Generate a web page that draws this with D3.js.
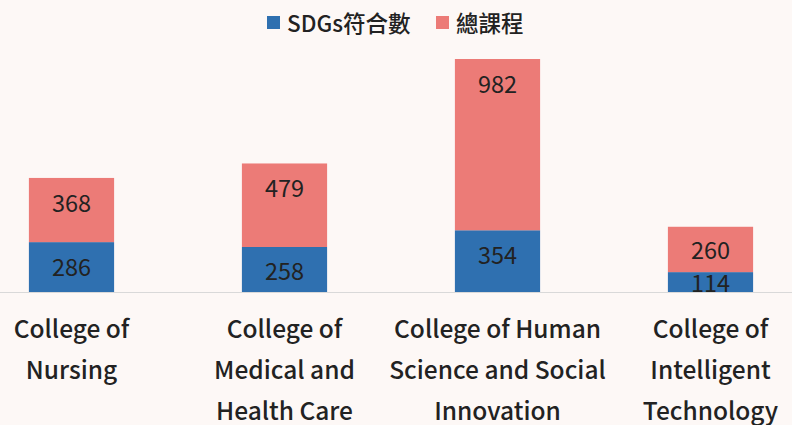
<!DOCTYPE html>
<html>
<head>
<meta charset="utf-8">
<script src="https://cdn.jsdelivr.net/npm/d3@7"></script>
<style>
  html, body { margin: 0; padding: 0; background: #fdf8f6; }
  svg { display: block; }
  text { font-family: "Noto Sans CJK TC", "Noto Sans", sans-serif; fill: #222; }
</style>
</head>
<body>
<svg id="chart" width="792" height="425"></svg>
<script>
// Colleges (x categories), each label split over lines
const colleges = [
  ["College of", "Nursing"],
  ["College of", "Medical and", "Health Care"],
  ["College of Human", "Science and Social", "Innovation"],
  ["College of", "Intelligent", "Technology"]
];
// Series
const seriesNames = ["SDGs符合數", "總課程"];
const sdgCourses = [286, 258, 354, 114];
const totalCourses = [368, 479, 982, 260];
const seriesColors = ["#2f70b0", "#ec7b77"];

const svg = d3.select("#chart");
const W = 792, H = 425;

const x = d3.scaleBand()
  .domain(d3.range(colleges.length))
  .range([-35, 817])
  .paddingInner(0.6)
  .paddingOuter(0.3);

const y = d3.scaleLinear()
  .domain([0, 1336])
  .range([292, 59]);

const rows = colleges.map((c, i) => ({ i, a: sdgCourses[i], b: totalCourses[i] }));
const stack = d3.stack().keys(["a", "b"])(rows);

// Bars
stack.forEach((layer, k) => {
  svg.append("g")
    .selectAll("rect")
    .data(layer)
    .join("rect")
    .attr("x", d => x(d.data.i))
    .attr("width", x.bandwidth())
    .attr("y", d => y(d[1]))
    .attr("height", d => y(d[0]) - y(d[1]))
    .attr("fill", seriesColors[k]);
});

// Baseline
svg.append("line")
  .attr("x1", 0).attr("x2", W)
  .attr("y1", y(0) + 0.5).attr("y2", y(0) + 0.5)
  .attr("stroke", "#d9d9d9").attr("stroke-width", 1);

// Value labels: near the top of each segment, centred when the segment is short
stack.forEach((layer, k) => {
  svg.append("g")
    .selectAll("text")
    .data(layer)
    .join("text")
    .attr("x", d => x(d.data.i) + x.bandwidth() / 2)
    .attr("y", d => Math.min((y(d[0]) + y(d[1])) / 2, y(d[1]) + 24))
    .attr("text-anchor", "middle")
    .attr("dominant-baseline", "central")
    .attr("font-size", 23.5)
    .text(d => d[1] - d[0]);
});

// Category labels
const xl = svg.append("g");
colleges.forEach((lines, i) => {
  const t = xl.append("text")
    .attr("text-anchor", "middle")
    .attr("font-size", 24.5)
    .attr("font-weight", 500)
    .attr("fill", "#1e1e1e");
  lines.forEach((ln, j) => {
    t.append("tspan")
      .attr("x", x(i) + x.bandwidth() / 2)
      .attr("y", 327 + j * 41)
      .attr("dominant-baseline", "central")
      .text(ln);
  });
});

// Legend
const legend = svg.append("g");
const legendX = [267, 436];
seriesNames.forEach((name, k) => {
  legend.append("rect")
    .attr("x", legendX[k]).attr("y", 16)
    .attr("width", 13).attr("height", 13)
    .attr("fill", seriesColors[k]);
  legend.append("text")
    .attr("x", legendX[k] + 20).attr("y", 22)
    .attr("dominant-baseline", "central")
    .attr("font-size", 22.5)
    .attr("font-weight", 500)
    .text(name);
});
</script>
</body>
</html>
